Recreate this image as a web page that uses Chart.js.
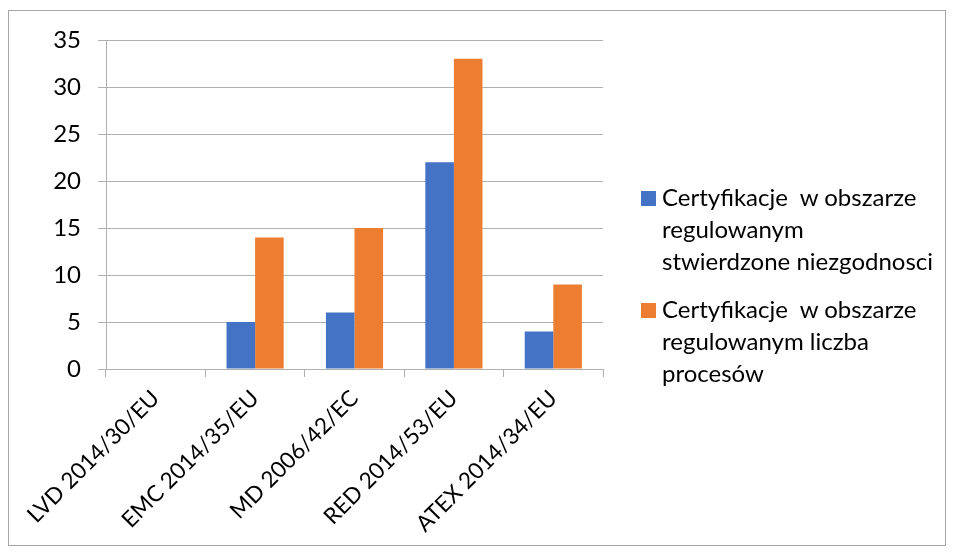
<!DOCTYPE html>
<html>
<head>
<meta charset="utf-8">
<script src="https://cdn.jsdelivr.net/npm/chart.js@4"></script>
<style>
  body { margin: 0; background: #fff; }
  #wrap { position: relative; width: 956px; height: 555px; }
  #frame { position: absolute; left: 8px; top: 10px; width: 936px; height: 534px; border: 1px solid #a6a6a6; }
  #myChart { position: absolute; left: 0; top: 0; }
  #legend { position: absolute; left: 641px; top: 181px; font-family: Lato, sans-serif; font-size: 24px; line-height: 32px; color: #000; white-space: pre; }
  .item { position: relative; padding-left: 21px; margin-bottom: 16px; width: 300px; }
  .box { position: absolute; left: 0; top: 10px; width: 15px; height: 15px; }
</style>
</head>
<body>
<div id="wrap">
  <div id="frame"></div>
  <canvas id="myChart" width="956" height="555"></canvas>
  <div id="legend"></div>
</div>
<script>
const categories = ["LVD 2014/30/EU", "EMC 2014/35/EU", "MD 2006/42/EC", "RED 2014/53/EU", "ATEX 2014/34/EU"];
const niezgodnosci = [0, 5, 6, 22, 4];
const procesy = [0, 14, 15, 33, 9];
const seriesNames = [
    "Certyfikacje  w obszarze regulowanym stwierdzone niezgodnosci",
    "Certyfikacje  w obszarze regulowanym liczba procesów"
];
const legendLines = [
    ["Certyfikacje  w obszarze", "regulowanym", "stwierdzone niezgodnosci"],
    ["Certyfikacje  w obszarze", "regulowanym liczba", "procesów"]
];
const yTicks = [0, 5, 10, 15, 20, 25, 30, 35];

const colors = ["#4472C4", "#ED7D31"];
const gridColor = "#b0b0b0";

let ctx = document.getElementById("myChart").getContext("2d");

const datasets = [
    { label: seriesNames[0], data: niezgodnosci, backgroundColor: colors[0] },
    { label: seriesNames[1], data: procesy, backgroundColor: colors[1] }
];

const config = {
    type: "bar",
    data: { labels: categories, datasets },
    options: {
        responsive: false,
        animation: false,
        layout: { padding: { top: 40, left: 0, right: 353, bottom: 0 } },
        datasets: { bar: { categoryPercentage: 0.575, barPercentage: 1 } },
        plugins: { legend: { display: false }, tooltip: { enabled: false } },
        scales: {
            x: {
                grid: { drawOnChartArea: false, offset: true, tickLength: 8, color: gridColor },
                border: { color: gridColor },
                ticks: { maxRotation: 45, minRotation: 45, color: "#000", font: { family: "Lato", size: 22.5 }, padding: 8 },
                afterFit: (axis) => { axis.height = 555 - 369; }
            },
            y: {
                min: 0, max: 35,
                afterBuildTicks: (axis) => { axis.ticks = yTicks.map(v => ({ value: v })); },
                grid: { color: gridColor, tickLength: 8 },
                border: { color: gridColor },
                ticks: { color: "#000", font: { family: "Lato", size: 24 }, padding: 17 },
                afterFit: (axis) => { axis.width = 106; }
            }
        }
    }
};

const myChart = new Chart(ctx, config);

// legend drawn as html so the long names can wrap like in the original
const $legend = document.getElementById("legend");
datasets.forEach((ds, i) => {
    const item = document.createElement("div");
    item.className = "item";
    item.innerHTML = '<span class="box" style="background:' + ds.backgroundColor + '"></span>' + legendLines[i].join("\n");
    $legend.appendChild(item);
});
</script>
</body>
</html>
